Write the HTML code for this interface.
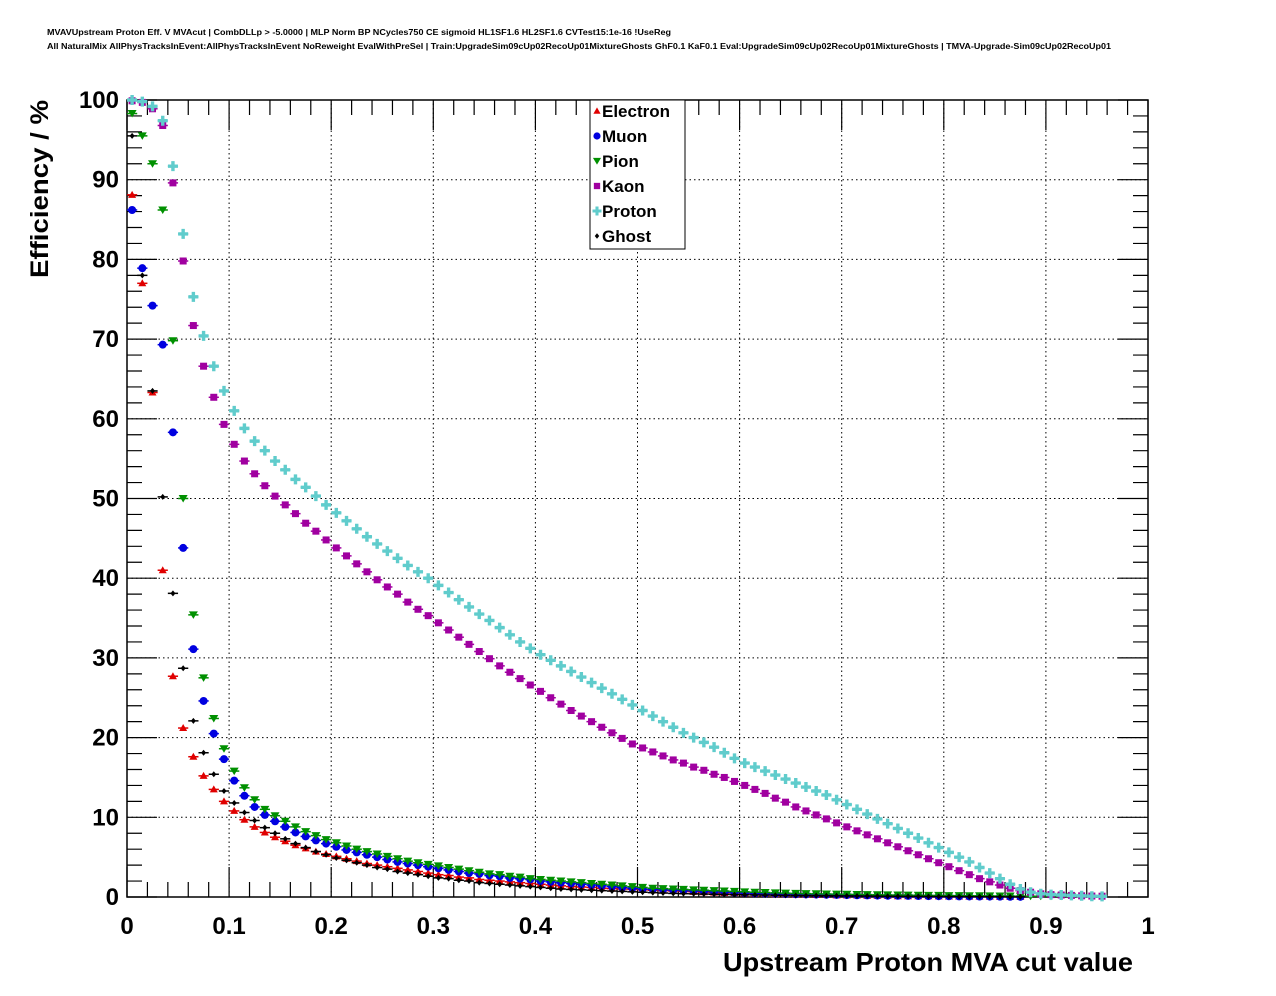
<!DOCTYPE html>
<html><head><meta charset="utf-8"><style>
html,body{margin:0;padding:0;background:#fff;}
svg{display:block;font-family:"Liberation Sans",sans-serif;}
</style></head><body>
<svg id="chart" width="1276" height="996" viewBox="0 0 1276 996">
<text x="47" y="35" font-size="8" font-weight="bold" textLength="624" lengthAdjust="spacingAndGlyphs">MVAVUpstream Proton Eff. V MVAcut | CombDLLp &gt; -5.0000 | MLP Norm BP NCycles750 CE sigmoid HL1SF1.6 HL2SF1.6 CVTest15:1e-16 !UseReg</text>
<text x="47" y="49" font-size="8" font-weight="bold" textLength="1064" lengthAdjust="spacingAndGlyphs">All NaturalMix AllPhysTracksInEvent:AllPhysTracksInEvent NoReweight EvalWithPreSel | Train:UpgradeSim09cUp02RecoUp01MixtureGhosts GhF0.1 KaF0.1 Eval:UpgradeSim09cUp02RecoUp01MixtureGhosts | TMVA-Upgrade-Sim09cUp02RecoUp01</text>
<g id="grid"></g>
<g id="axes"></g>
<g id="marks"></g>
<text transform="translate(48,278) rotate(-90)" font-size="25" font-weight="bold" textLength="178" lengthAdjust="spacingAndGlyphs">Efficiency / %</text>
<text x="723" y="971" font-size="26" font-weight="bold" textLength="410" lengthAdjust="spacingAndGlyphs">Upstream Proton MVA cut value</text>
<g id="legend"></g>
</svg>
<script>
const xTicks=[0,0.1,0.2,0.3,0.4,0.5,0.6,0.7,0.8,0.9,1];
const xTickLabels=["0","0.1","0.2","0.3","0.4","0.5","0.6","0.7","0.8","0.9","1"];
const yTicks=[0,10,20,30,40,50,60,70,80,90,100];
const yTickLabels=["0","10","20","30","40","50","60","70","80","90","100"];
const binWidth=0.01;
const electron=[88.1,77.0,63.3,41.0,27.7,21.2,17.6,15.2,13.5,12.0,10.8,9.7,8.8,8.1,7.5,7.0,6.5,6.1,5.7,5.4,5.1,4.8,4.5,4.2,4.0,3.8,3.6,3.4,3.2,3.0,2.8,2.7,2.5,2.4,2.2,2.1,2.0,1.9,1.8,1.7,1.6,1.5,1.4,1.3,1.25,1.2,1.1,1.05,1.0,0.95,0.9,0.85,0.8,0.75,0.7,0.65,0.6,0.55,0.5,0.5,0.45,0.4,0.4,0.35,0.35,0.3,0.3,0.25,0.25,0.2,0.2,0.2,0.15,0.15,0.15,0.1,0.1,0.1,0.1,0.08,0.07,0.06,0.05,0.05,0.04,0.03,0.03,0.02];
const muon=[86.2,78.9,74.2,69.3,58.3,43.8,31.1,24.6,20.5,17.3,14.6,12.7,11.3,10.3,9.5,8.8,8.1,7.6,7.1,6.7,6.3,5.9,5.6,5.3,5.0,4.7,4.4,4.2,4.0,3.8,3.6,3.4,3.2,3.0,2.9,2.7,2.6,2.4,2.3,2.2,2.0,1.9,1.8,1.7,1.6,1.5,1.4,1.3,1.2,1.1,1.0,0.95,0.9,0.85,0.8,0.75,0.7,0.65,0.6,0.55,0.5,0.45,0.42,0.4,0.37,0.34,0.32,0.3,0.28,0.26,0.24,0.22,0.2,0.18,0.16,0.15,0.14,0.12,0.11,0.1,0.09,0.08,0.07,0.06,0.05,0.04,0.03,0.02];
const pion=[98.3,95.5,92.0,86.2,69.8,50.0,35.4,27.5,22.4,18.6,15.8,13.7,12.2,11.0,10.2,9.5,8.8,8.2,7.7,7.2,6.8,6.4,6.0,5.7,5.4,5.1,4.8,4.5,4.3,4.1,3.9,3.7,3.5,3.3,3.1,2.9,2.8,2.6,2.5,2.3,2.2,2.1,2.0,1.9,1.8,1.7,1.6,1.5,1.4,1.3,1.2,1.1,1.05,1.0,0.95,0.9,0.85,0.8,0.75,0.7,0.65,0.6,0.56,0.52,0.48,0.45,0.42,0.4,0.38,0.36,0.34,0.32,0.3,0.28,0.26,0.25,0.24,0.22,0.2,0.2,0.18,0.17,0.16,0.15,0.14,0.13,0.12,0.11,0.1,0.1,0.1,0.09,0.08];
const kaon=[99.9,99.7,98.9,96.8,89.6,79.8,71.7,66.6,62.7,59.3,56.8,54.7,53.1,51.6,50.3,49.2,48.1,46.9,45.9,44.8,43.8,42.8,41.8,40.8,39.8,38.9,38.0,37.0,36.1,35.3,34.4,33.5,32.6,31.7,30.8,29.9,29.0,28.2,27.4,26.6,25.8,25.0,24.2,23.4,22.7,22.0,21.3,20.6,19.9,19.2,18.7,18.2,17.7,17.2,16.8,16.3,15.9,15.4,15.0,14.5,14.0,13.5,13.0,12.4,11.9,11.3,10.8,10.3,9.8,9.3,8.8,8.3,7.8,7.3,6.8,6.3,5.8,5.3,4.8,4.3,3.8,3.3,2.8,2.3,1.9,1.5,1.1,0.8,0.6,0.4,0.3,0.25,0.2,0.15,0.12,0.1];
const proton=[100,99.8,99.2,97.4,91.7,83.2,75.3,70.4,66.6,63.5,61.0,58.8,57.2,56.0,54.7,53.6,52.4,51.4,50.3,49.2,48.2,47.2,46.2,45.2,44.3,43.4,42.5,41.6,40.8,40.0,39.1,38.2,37.3,36.4,35.5,34.7,33.8,32.9,32.0,31.2,30.4,29.7,29.0,28.3,27.6,26.9,26.2,25.5,24.8,24.1,23.4,22.7,22.0,21.3,20.6,20.0,19.4,18.8,18.1,17.4,16.8,16.3,15.8,15.3,14.8,14.3,13.8,13.3,12.8,12.2,11.6,11.0,10.4,9.8,9.2,8.6,8.0,7.4,6.8,6.2,5.6,5.0,4.4,3.7,3.0,2.3,1.6,1.0,0.6,0.4,0.3,0.25,0.2,0.15,0.1,0.08];
const ghost=[95.5,78.0,63.5,50.2,38.1,28.7,22.1,18.1,15.4,13.3,11.8,10.6,9.6,8.7,8.0,7.3,6.7,6.2,5.7,5.3,4.9,4.6,4.3,4.0,3.7,3.5,3.2,3.0,2.8,2.6,2.4,2.3,2.1,2.0,1.8,1.7,1.6,1.5,1.4,1.3,1.2,1.1,1.0,0.95,0.9,0.85,0.8,0.75,0.7,0.65,0.6,0.55,0.5,0.45,0.42,0.4,0.37,0.34,0.32,0.3,0.28,0.26,0.24,0.22,0.2,0.19,0.18,0.17,0.16,0.15,0.14,0.13,0.12,0.11,0.1,0.09,0.08,0.08,0.07,0.06,0.05,0.05,0.04,0.04,0.03,0.03,0.02,0.02];
const seriesNames=["Electron","Muon","Pion","Kaon","Proton","Ghost"];

const NS="http://www.w3.org/2000/svg";
const X0=127,X1=1148,Y0=897,Y1=100;
function sx(v){return X0+v*(X1-X0);}
function sy(v){return Y0-v/100*(Y0-Y1);}
function mk(tag,attrs,parent){const e=document.createElementNS(NS,tag);for(const k in attrs)e.setAttribute(k,attrs[k]);parent.appendChild(e);return e;}
const grid=document.getElementById('grid'),axes=document.getElementById('axes'),marks=document.getElementById('marks'),legend=document.getElementById('legend');

xTicks.forEach((t,i)=>{
  if(i>0&&i<xTicks.length-1){const g=mk('line',{x1:sx(t),x2:sx(t),y1:Y0,y2:Y1,stroke:'#000','stroke-width':1,'stroke-dasharray':'1.5,3'},grid);
  }
  const l=mk('text',{x:sx(t),y:934,'text-anchor':'middle','font-size':24,'font-weight':'bold'},axes);
  l.textContent=xTickLabels[i];
  
});
yTicks.forEach((t,i)=>{
  if(i>0&&i<yTicks.length-1){const g=mk('line',{x1:X0,x2:X1,y1:sy(t),y2:sy(t),stroke:'#000','stroke-width':1,'stroke-dasharray':'1.5,3'},grid);
  }
  const l=mk('text',{x:119,y:sy(t)+8,'text-anchor':'end','font-size':24,'font-weight':'bold'},axes);
  l.textContent=yTickLabels[i];
  
});
let d='';
for(let k=0;k<=50;k++){const v=k*0.02,len=(k%5==0)?30:15;const x=sx(v);d+=`M${x},${Y0}v${-len}M${x},${Y1}v${len}`;}
for(let k=0;k<=50;k++){const v=k*2,len=(k%5==0)?30:15;const y=sy(v);d+=`M${X0},${y}h${len}M${X1},${y}h${-len}`;}
const tk=mk('path',{d:d,stroke:'#000','stroke-width':1.2,fill:'none'},axes);

const fr=mk('rect',{x:X0,y:Y1,width:X1-X0,height:Y0-Y1,fill:'none',stroke:'#000','stroke-width':1.5},axes);


const styles=[
 {c:'#e00000',m:'tri'},{c:'#0000e0',m:'circ'},{c:'#009000',m:'tridown'},
 {c:'#a000a0',m:'sq'},{c:'#60cccc',m:'cross'},{c:'#000',m:'diam'}];
function marker(g,m,x,y,c,s){
  s=s||1;
  if(m=='tri')mk('path',{d:`M${x},${y-4*s}L${x+4*s},${y+3*s}L${x-4*s},${y+3*s}Z`,fill:c},g);
  else if(m=='tridown')mk('path',{d:`M${x},${y+4*s}L${x+4.5*s},${y-3.5*s}L${x-4.5*s},${y-3.5*s}Z`,fill:c},g);
  else if(m=='circ')mk('circle',{cx:x,cy:y,r:4*s,fill:c},g);
  else if(m=='sq')mk('rect',{x:x-3.5*s,y:y-3.5*s,width:7*s,height:7*s,fill:c},g);
  else if(m=='cross')mk('path',{d:`M${x-1.7*s},${y-5*s}h${3.4*s}v${3.3*s}h${3.3*s}v${3.4*s}h${-3.3*s}v${3.3*s}h${-3.4*s}v${-3.3*s}h${-3.3*s}v${-3.4*s}h${3.3*s}Z`,fill:c},g);
  else mk('path',{d:`M${x},${y-3*s}L${x+2.5*s},${y}L${x},${y+3*s}L${x-2.5*s},${y}Z`,fill:c},g);
}
const allSeries=[electron,muon,pion,kaon,proton,ghost];
allSeries.forEach((arr,si)=>{
  const g=mk('g',{},marks);
  
  
  const st=styles[si];
  arr.forEach((v,i)=>{
    const xv=(i+0.5)*binWidth;
    const x=sx(xv),y=sy(v);
    mk('line',{x1:sx(xv-binWidth/2),x2:sx(xv+binWidth/2),y1:y,y2:y,stroke:st.c,'stroke-width':1.5},g);
    marker(g,st.m,x,y,st.c);
  });
});
const lb=mk('rect',{x:590,y:100,width:95,height:149,fill:'#fff',stroke:'#000','stroke-width':1},legend);

seriesNames.forEach((n,i)=>{
  const g=mk('g',{},legend);
  
  
  const y=111+25*i;
  marker(g,styles[i].m,597,y,styles[i].c,0.9);
  const t=mk('text',{x:602,y:y+6,'font-size':17,'font-weight':'bold'},g);
  t.textContent=n;
});
</script>
</body></html>
